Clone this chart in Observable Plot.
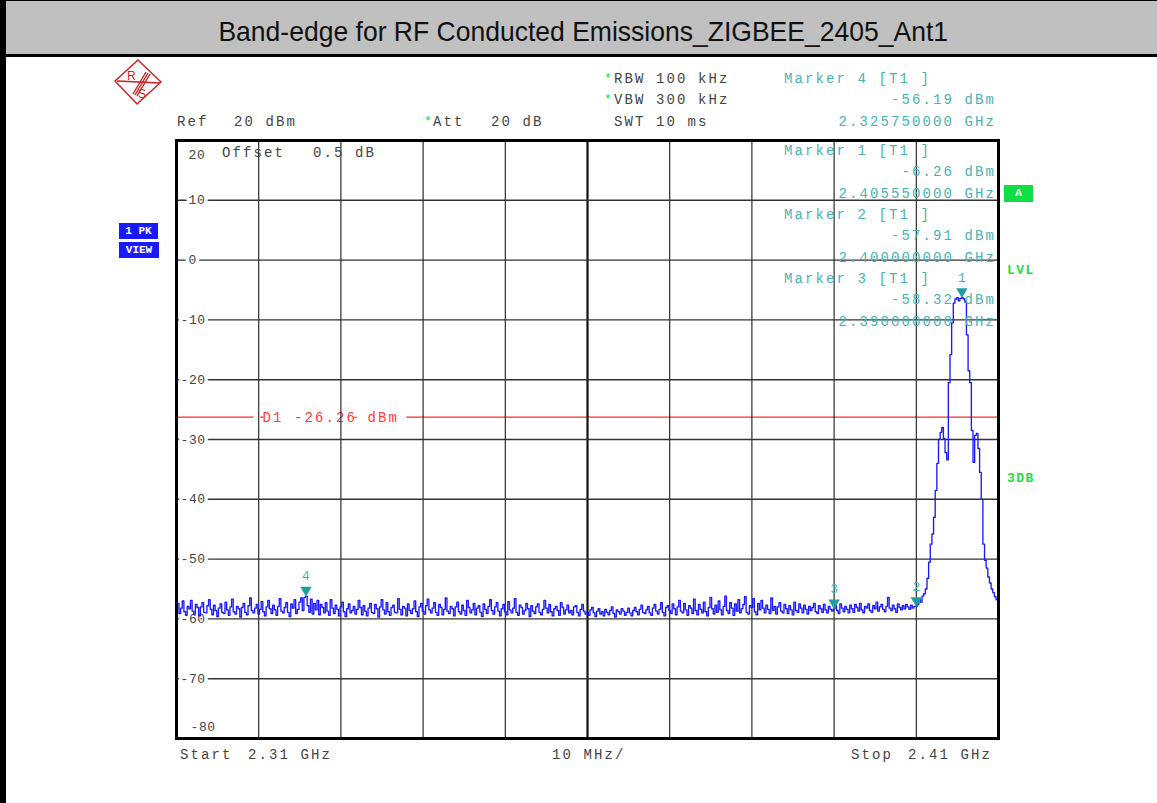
<!DOCTYPE html>
<html>
<head>
<meta charset="utf-8">
<script src="https://cdn.jsdelivr.net/npm/d3@7"></script>
<script src="https://cdn.jsdelivr.net/npm/@observablehq/plot@0.6"></script>
<style>
  html, body { margin: 0; padding: 0; background: #fff; }
  #page { position: relative; width: 1157px; height: 803px; overflow: hidden; background: #fff; }
  #title { position: absolute; left: 0; top: 0; width: 1157px; height: 57px; box-sizing: border-box;
           background: #c0c0c0; border-top: 1px solid #000; border-bottom: 3px solid #000;
           padding-top: 7px; padding-left: 9px; text-align: center; }
  #title span { display: inline-block; font-family: "Liberation Sans", Arial, sans-serif; font-size: 28px;
           line-height: 48px; color: #111; transform: scaleX(0.947); transform-origin: center; white-space: pre; }
  #leftbar { position: absolute; left: 0; top: 0; width: 6px; height: 803px; background: #000; }
  #chart { position: absolute; left: 0; top: 56px; }
  #overlay { position: absolute; left: 0; top: 0; width: 1157px; height: 803px; pointer-events: none; }
  .t { position: absolute; font-family: "Liberation Mono", "DejaVu Sans Mono", monospace; font-size: 14px;
       line-height: 14px; letter-spacing: 2.1px; color: #444; white-space: pre; }
  .m { color: #46b4b4; }
  .star { color: #22dd22; letter-spacing: 0; font-size: 13px; }
  .g { color: #22dd44; font-weight: bold; font-size: 13px; line-height: 13px; letter-spacing: 1.5px; }
  .box { position: absolute; font-family: "Liberation Mono", monospace; font-weight: bold; font-size: 11px;
         color: #fff; text-align: center; white-space: pre; }
</style>
</head>
<body>
<div id="page">
  <div id="chart"></div>
  <div id="title"><span>Band-edge for RF Conducted Emissions_ZIGBEE_2405_Ant1</span></div>
  <div id="leftbar"></div>
  <div id="overlay"></div>
</div>
<script>
// ---- instrument sweep ----
const sweepStartMHz = 2310;
const sweepStepMHz = 0.2;
const spanMHz = [2310, 2410];
const levelRange = [-80, 20];

// trace levels (dBm), 2310.0 .. 2400.0 MHz
const noiseLevels = [
-58.6,-57.4,-59.1,-58.2,-57.0,-58.8,-59.4,-57.9,-58.3,-56.9,
-58.7,-59.2,-57.6,-58.1,-59.5,-58.0,-57.3,-58.9,-59.0,-57.8,
-56.8,-58.4,-59.3,-57.7,-58.6,-59.6,-58.2,-57.5,-58.9,-59.1,
-57.2,-58.5,-59.4,-58.0,-56.7,-58.8,-59.2,-57.9,-58.3,-59.7,
-58.1,-57.4,-58.9,-59.3,-57.8,-56.5,-58.6,-59.0,-58.2,-57.6,
-59.2,-58.4,-57.1,-58.8,-59.5,-58.0,-56.9,-58.3,-59.1,-57.7,
-58.5,-59.4,-57.9,-56.6,-58.7,-59.0,-58.1,-57.3,-58.9,-59.6,
-57.5,-58.2,-56.8,-59.1,-58.4,-57.2,-56.5,-58.6,-56.4,-56.19,
-57.8,-58.9,-56.7,-59.2,-57.4,-58.5,-56.9,-59.3,-57.6,-58.1,
-59.0,-57.3,-58.7,-59.4,-56.8,-58.2,-59.1,-57.7,-58.4,-59.5,
-58.0,-57.2,-58.8,-59.6,-58.3,-57.5,-59.0,-58.6,-57.9,-59.2,
-58.4,-56.9,-58.1,-59.3,-57.8,-58.7,-59.5,-58.2,-57.4,-58.9,
-59.1,-57.6,-58.3,-59.7,-58.0,-56.8,-58.5,-59.2,-57.3,-58.8,
-59.4,-58.1,-57.7,-58.9,-59.0,-56.6,-58.4,-59.3,-57.9,-58.2,
-59.5,-57.5,-58.6,-59.1,-58.3,-57.0,-58.8,-59.6,-58.0,-57.4,
-58.7,-59.2,-57.8,-56.7,-58.5,-59.0,-58.2,-57.3,-58.9,-59.4,
-57.6,-58.1,-59.3,-58.4,-56.5,-58.7,-59.1,-57.9,-58.3,-59.5,
-58.0,-57.2,-58.8,-59.2,-57.7,-58.6,-59.4,-56.9,-58.1,-59.0,
-58.5,-57.4,-59.3,-58.2,-57.8,-58.9,-59.6,-57.5,-58.4,-59.1,
-57.9,-56.8,-58.6,-59.2,-58.0,-57.3,-58.7,-59.5,-58.3,-57.6,
-58.8,-59.3,-57.1,-58.5,-59.0,-58.2,-56.6,-58.9,-59.4,-57.7,
-58.1,-59.2,-58.6,-57.4,-58.3,-59.6,-57.8,-58.7,-59.1,-58.0,
-57.5,-58.9,-59.3,-58.4,-56.9,-58.2,-59.0,-57.6,-58.8,-59.5,
-58.3,-57.9,-58.6,-59.4,-57.3,-58.1,-59.2,-58.5,-57.7,-59.0,
-58.6,-59.3,-58.0,-57.8,-58.9,-59.5,-58.4,-57.6,-58.7,-59.2,
-58.9,-59.4,-58.5,-58.1,-59.0,-59.6,-58.7,-58.3,-59.2,-58.8,
-59.5,-58.4,-58.9,-59.3,-58.6,-58.0,-59.1,-59.7,-58.5,-58.8,
-59.2,-58.3,-58.7,-59.4,-58.9,-58.2,-59.0,-59.5,-58.6,-58.1,
-58.8,-59.3,-58.4,-57.7,-58.9,-59.1,-58.5,-57.9,-59.0,-59.4,
-58.2,-57.6,-58.7,-59.2,-58.4,-57.3,-58.9,-59.5,-58.1,-57.8,
-58.6,-59.1,-57.5,-58.3,-59.3,-58.0,-56.9,-58.7,-59.0,-57.4,
-58.5,-59.4,-57.8,-58.2,-59.1,-56.7,-58.6,-59.3,-57.6,-58.4,
-59.0,-57.2,-58.8,-59.5,-58.1,-56.4,-58.3,-59.2,-57.7,-58.9,
-57.0,-58.5,-59.3,-57.9,-56.2,-58.6,-59.1,-57.3,-58.2,-59.4,
-57.5,-58.7,-56.8,-59.0,-58.3,-57.6,-56.3,-58.9,-59.2,-57.8,
-58.1,-56.6,-58.8,-59.3,-57.4,-58.5,-56.9,-58.2,-59.0,-57.7,
-58.4,-59.1,-56.5,-58.6,-57.9,-59.2,-58.0,-57.3,-58.7,-59.0,
-57.6,-58.3,-59.1,-57.8,-58.5,-59.3,-57.2,-58.6,-58.9,-57.5,
-58.2,-59.0,-57.7,-58.4,-59.2,-57.9,-58.6,-58.1,-57.4,-58.8,
-59.1,-57.8,-58.3,-58.9,-57.6,-58.5,-59.0,-57.9,-58.4,-58.7,
-58.32,-57.8,-58.6,-59.1,-57.5,-58.2,-58.8,-57.9,-58.4,-59.0,
-57.7,-58.3,-58.9,-57.6,-58.1,-58.7,-57.4,-58.5,-59.0,-57.9,
-58.2,-57.5,-58.6,-58.9,-57.8,-58.3,-57.2,-58.7,-58.0,-57.6,
-58.4,-58.8,-57.9,-56.4,-58.2,-58.6,-57.7,-58.3,-58.9,-57.5,
-58.1,-58.5,-57.8,-58.3,-57.6,-58.0,-58.4,-57.7,-58.2,-57.9,
-57.91
];
// trace levels (dBm), 2400.2 .. 2410.0 MHz
const signalLevels = [
-57.6,-56.8,-57.2,-56.2,-55.8,-55.0,-53.2,-50.5,-47.5,-45.8,
-43.0,-38.5,-34.0,-30.0,-28.8,-28.0,-29.8,-32.2,-33.4,-20.5,
-15.8,-10.5,-7.2,-6.5,-6.3,-6.8,-6.4,-6.26,-6.5,-7.0,
-12.5,-18.5,-20.5,-28.5,-33.8,-29.3,-29.0,-31.5,-35.5,-40.0,
-47.5,-50.2,-51.5,-53.0,-54.0,-55.0,-55.6,-56.3,-56.8,-57.5
];

// markers
const markerNames  = ["1", "2", "3", "4"];
const markerFreqs  = [2405.55, 2400.0, 2390.0, 2325.75];
const markerLevels = [-6.26, -57.91, -58.32, -56.19];
const markerFreqText  = ["2.405550000 GHz", "2.400000000 GHz", "2.390000000 GHz", "2.325750000 GHz"];
const markerLevelText = ["-6.26 dBm", "-57.91 dBm", "-58.32 dBm", "-56.19 dBm"];

// display line
const displayLineLevel = -26.26;
const displayLineLabel = "D1 -26.26 dBm";

// grid / tick labels
const freqGrid = [2320, 2330, 2340, 2350, 2370, 2380, 2390, 2400];
const centerFreq = 2360;
const levelGrid = [10, 0, -10, -20, -30, -40, -50, -60, -70];
const levelLabels = ["10", "0", "-10", "-20", "-30", "-40", "-50", "-60", "-70"];
const topLabel = "20", bottomLabel = "-80";

// ---- build ----
const levels = noiseLevels.concat(signalLevels);
const trace = levels.map((v, i) => ({f: sweepStartMHz + i * sweepStepMHz, v}));
const markers = markerNames.map((n, i) => ({n, f: markerFreqs[i], v: markerLevels[i]}));
const ticks = levelGrid.map((v, i) => ({v, label: levelLabels[i], neg: v < 0}));

const mono = "Liberation Mono, DejaVu Sans Mono, monospace";
const svg = Plot.plot({
  width: 1157, height: 747,
  marginLeft: 176, marginRight: 159, marginTop: 84, marginBottom: 65,
  x: {domain: spanMHz, axis: null},
  y: {domain: levelRange, axis: null},
  style: {fontFamily: mono, background: "transparent"},
  marks: [
    Plot.ruleY([displayLineLevel], {stroke: "#ff2a2a", strokeWidth: 1.2}),
    Plot.text([displayLineLabel], {x: spanMHz[0], y: displayLineLevel, text: d => d, dx: 86, textAnchor: "start",
      fill: "#ff3a3a", stroke: "white", strokeWidth: 20, fontSize: 14}),
    Plot.ruleX(freqGrid, {stroke: "#1a1a1a", strokeWidth: 1.1}),
    Plot.ruleX([centerFreq], {stroke: "#111", strokeWidth: 2.2}),
    Plot.ruleY(levelGrid, {stroke: "#333", strokeWidth: 1.4}),
    Plot.text(ticks.filter(d => !d.neg), {x: () => spanMHz[0], y: "v", text: "label", dx: 12, textAnchor: "start",
      fill: "#444", stroke: "white", strokeWidth: 7, fontSize: 13}),
    Plot.text(ticks.filter(d => d.neg), {x: () => spanMHz[0], y: "v", text: "label", dx: 4, textAnchor: "start",
      fill: "#444", stroke: "white", strokeWidth: 7, fontSize: 13}),
    Plot.text([topLabel], {x: spanMHz[0], y: levelRange[1], text: d => d, dx: 12, dy: 14, textAnchor: "start",
      fill: "#444", fontSize: 13}),
    Plot.text([bottomLabel], {x: spanMHz[0], y: levelRange[0], text: d => d, dx: 14, dy: -12, textAnchor: "start",
      fill: "#444", fontSize: 13}),
    Plot.line(trace, {x: "f", y: "v", stroke: "#1a1aff", strokeWidth: 1.35, curve: "step"}),
    Plot.dot(markers, {x: "f", y: "v", symbol: "triangle", rotate: 180, r: 4.2, fill: "#1f9e9e", stroke: "none", dy: -6}),
    Plot.text(markers, {x: "f", y: "v", text: "n", dy: -20, fill: "#46b4b4", fontSize: 13}),
    Plot.frame({stroke: "#000", strokeWidth: 3})
  ]
});
document.getElementById("chart").appendChild(svg);
svg.querySelectorAll("text").forEach(t => {
  if (t.textContent === displayLineLabel) t.style.letterSpacing = "2.1px";
  else if (levelLabels.includes(t.textContent) || t.textContent === topLabel || t.textContent === bottomLabel)
    t.style.letterSpacing = "0.6px";
});

// ---- overlay texts ----
const ov = document.getElementById("overlay");
function put(txt, x, cy, cls, anchor) {
  const s = document.createElement("span");
  s.className = "t " + (cls || "");
  s.textContent = txt;
  ov.appendChild(s);
  const ls = parseFloat(getComputedStyle(s).letterSpacing) || 0;
  const w = s.getBoundingClientRect().width - ls;
  const h = parseFloat(getComputedStyle(s).lineHeight) || 14;
  s.style.left = (anchor === "end" ? x - w : x) + "px";
  s.style.top = (cy - h / 2) + "px";
  return s;
}
put("Ref", 177, 122); put("20 dBm", 234, 122);
put("*", 424, 122, "star"); put("Att", 433, 122); put("20 dB", 491, 122);
put("*", 604, 79, "star"); put("RBW 100 kHz", 614, 79);
put("*", 604, 100, "star"); put("VBW 300 kHz", 614, 100);
put("SWT 10 ms", 614, 122);
const mRows = [[3, 79], [0, 151], [1, 215], [2, 279]];
mRows.forEach(([i, y]) => {
  put("Marker " + markerNames[i] + " [T1 ]", 784, y, "m");
  put(markerLevelText[i], 994, y + 21, "m", "end");
  put(markerFreqText[i], 994, y + 43, "m", "end");
});
put("Offset", 222, 153); put("0.5 dB", 313, 153);
put("Start", 180, 755); put("2.31 GHz", 248, 755);
put("10 MHz/", 552, 755);
put("Stop", 851, 755); put("2.41 GHz", 908, 755);
put("LVL", 1007, 270, "g"); put("3DB", 1007, 478, "g");

function box(txt, x, y, w, h, bg) {
  const b = document.createElement("div");
  b.className = "box";
  Object.assign(b.style, {left: x + "px", top: y + "px", width: w + "px", height: h + "px",
    lineHeight: h + "px", background: bg});
  b.textContent = txt;
  ov.appendChild(b);
}
box("1 PK", 119, 223, 39, 16, "#1a1aff");
box("VIEW", 119, 242, 40, 16, "#1a1aff");
box("A", 1004, 185, 29, 17, "#11dd44");

// R&S logo
const logo = document.createElementNS("http://www.w3.org/2000/svg", "svg");
logo.setAttribute("width", 52); logo.setAttribute("height", 50);
Object.assign(logo.style, {position: "absolute", left: "112px", top: "58px"});
logo.innerHTML = `
  <g fill="none" stroke="#cc1f1f" stroke-width="1.4">
    <path d="M26 2 L49 24 L25 46 L3 23 Z"/>
    <path d="M5 23 L48 25"/>
    <path d="M34 14 L21 36 M36 15 L23 37 M38 16 L25 38"/>
  </g>
  <text x="15" y="22" font-family="Liberation Sans" font-size="12" fill="#cc1f1f">R</text>
  <text x="26" y="40" font-family="Liberation Sans" font-size="12" fill="#cc1f1f">S</text>`;
ov.appendChild(logo);
</script>
</body>
</html>
